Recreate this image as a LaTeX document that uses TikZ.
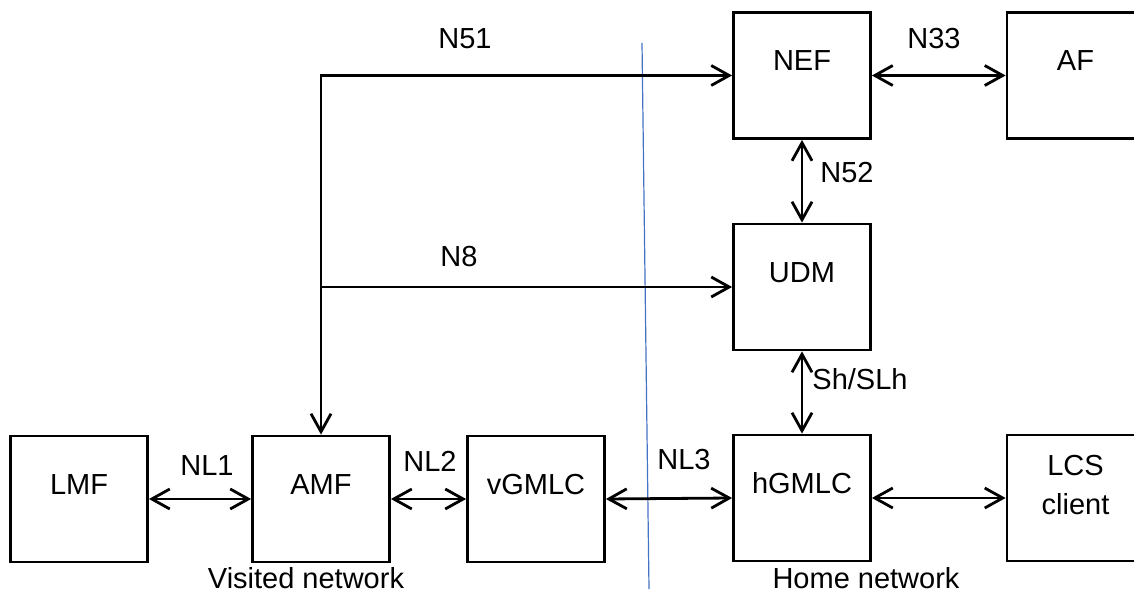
\documentclass[tikz,border=0pt]{standalone}
\usepackage{fontspec}
\setmainfont{Liberation Sans}
\usetikzlibrary{arrows.meta}
\tikzstyle{nf_box} = [
    rectangle, 
    draw=black, 
    line width=1.4pt, 
    align=center, 
    minimum width=68.5pt, 
    minimum height=63pt, 
    text height=10pt, 
    text depth=14.5pt % lifts the name above the middle
]
\tikzstyle{if_link} = [
    line width=1.4pt
]
\tikzstyle{if_label} = [
    inner sep=0.5pt
]
\tikzstyle{divider} = [
    draw={rgb,255:red,68;green,114;blue,196}, 
    line width=0.6pt
]

\begin{document}
\begin{tikzpicture}[
    x=0.5pt, y=-0.5pt, 
    font=\fontsize{14.5}{19.5}\selectfont, 
    >={Straight Barb[length=9pt, width=10pt]}
]
\useasboundingbox (0,0) rectangle (1134,592);

% network functions
\node [nf_box] (LMF)   at (79, 499)     {LMF};
\node [nf_box] (AMF)   at (321, 499)    {AMF};
\node [nf_box] (vGMLC) at (536, 499)    {vGMLC};
\node [nf_box] (hGMLC) at (802, 498)    {hGMLC};
\node [nf_box, text height=29.5pt, text depth=13pt] (LCS) at (1075.5, 498) {LCS\\client};
\node [nf_box] (UDM)   at (802, 287)    {UDM};
\node [nf_box] (NEF)   at (802, 75.5)   {NEF};
\node [nf_box] (AF)    at (1075.5, 75.5) {AF};

% visited / home border
\coordinate (border_top) at (642, 43);
\coordinate (border_bot) at (649, 589);
\draw [divider] (border_top) -- (border_bot);

% interfaces
\draw [if_link, <->] (NEF.west) -| (AMF.north);
\draw [if_link, ->] (AMF.north |- UDM.west) -- (UDM.west);
\draw [if_link, <->] (NEF.east) -- (AF.west);
\draw [if_link, <->] (NEF.south) -- (UDM.north);
\draw [if_link, <->] (UDM.south) -- (hGMLC.north);
\draw [if_link, <->] (LMF.east) -- (AMF.west);
\draw [if_link, <->] (AMF.east) -- (vGMLC.west);
\draw [if_link, <->] (vGMLC.east) -- (hGMLC.west);
\draw [if_link, <->] (hGMLC.east) -- (LCS.west);

\node [if_label] (n51) at (465, 39)  {N51};
\node [if_label] (n8)  at (459, 257) {N8};
\node [if_label] (n33) at (934, 39)  {N33};
\node [if_label] (n52) at (847, 173) {N52};
\node [if_label, anchor=west] (shslh) at (811, 379) {Sh/SLh};
\node [if_label] (nl1) at (207, 466) {NL1};
\node [if_label] (nl2) at (430, 461) {NL2};
\node [if_label] (nl3) at (684, 460) {NL3};

\node [if_label] (visited) at (306, 578) {Visited network};
\node [if_label] (home)    at (866, 578) {Home network};
\end{tikzpicture}
\end{document}
